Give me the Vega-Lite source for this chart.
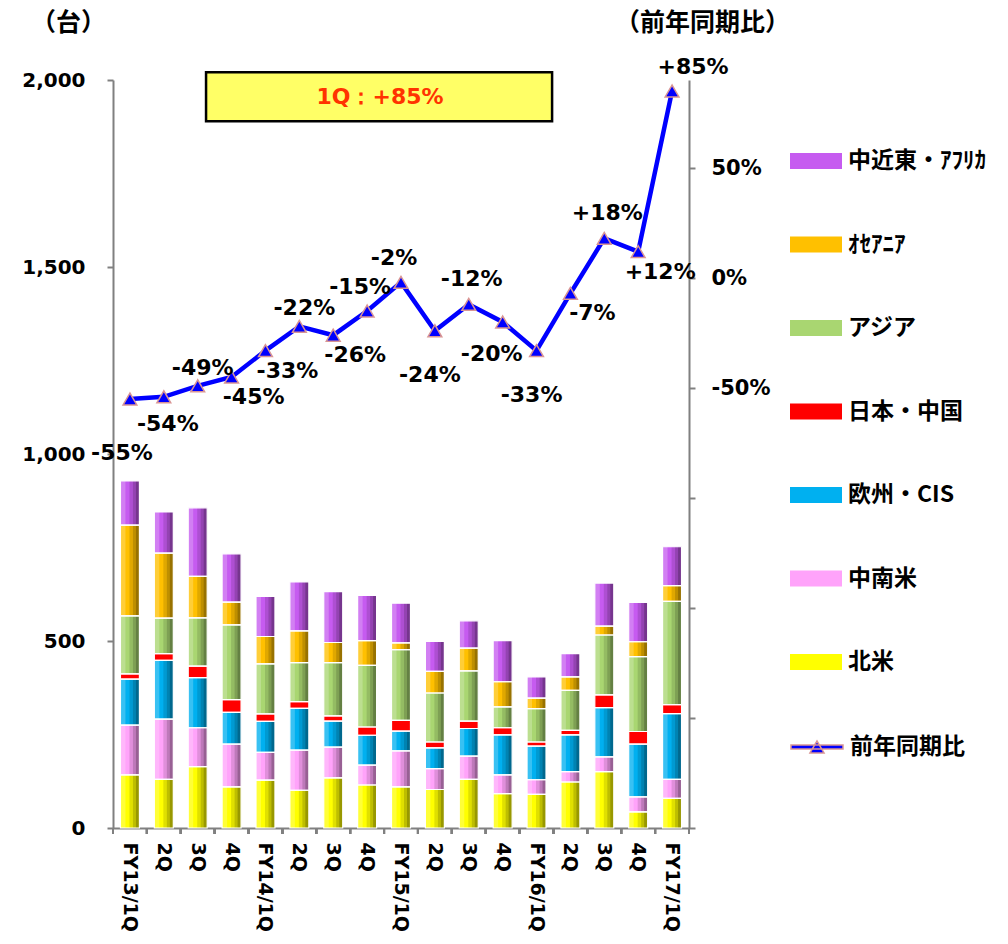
{
  "$schema": "https://vega.github.io/schema/vega-lite/v6.json",
  "width": 576,
  "height": 748,
  "autosize": "none",
  "padding": {"left": 113, "top": 80, "right": 319, "bottom": 116},
  "background": "white",
  "config": {
    "view": {"stroke": null},
    "axis": {
      "grid": false,
      "domainColor": "#808080",
      "domainWidth": 2,
      "tickColor": "#808080",
      "tickWidth": 2,
      "tickSize": 6,
      "labelFont": "DejaVu Sans",
      "labelFontWeight": "bold",
      "labelColor": "#000000"
    }
  },
  "data": {"values": [
      {"q":"FY13/1Q","r":"北米","o":1,"v":142},{"q":"FY13/1Q","r":"中南米","o":2,"v":133},{"q":"FY13/1Q","r":"欧州・CIS","o":3,"v":123},{"q":"FY13/1Q","r":"日本・中国","o":4,"v":14},{"q":"FY13/1Q","r":"アジア","o":5,"v":155},{"q":"FY13/1Q","r":"ｵｾｱﾆｱ","o":6,"v":243},{"q":"FY13/1Q","r":"中近東・ｱﾌﾘｶ","o":7,"v":118},
      {"q":"FY13/2Q","r":"北米","o":1,"v":130},{"q":"FY13/2Q","r":"中南米","o":2,"v":161},{"q":"FY13/2Q","r":"欧州・CIS","o":3,"v":157},{"q":"FY13/2Q","r":"日本・中国","o":4,"v":18},{"q":"FY13/2Q","r":"アジア","o":5,"v":95},{"q":"FY13/2Q","r":"ｵｾｱﾆｱ","o":6,"v":174},{"q":"FY13/2Q","r":"中近東・ｱﾌﾘｶ","o":7,"v":110},
      {"q":"FY13/3Q","r":"北米","o":1,"v":164},{"q":"FY13/3Q","r":"中南米","o":2,"v":104},{"q":"FY13/3Q","r":"欧州・CIS","o":3,"v":134},{"q":"FY13/3Q","r":"日本・中国","o":4,"v":31},{"q":"FY13/3Q","r":"アジア","o":5,"v":129},{"q":"FY13/3Q","r":"ｵｾｱﾆｱ","o":6,"v":111},{"q":"FY13/3Q","r":"中近東・ｱﾌﾘｶ","o":7,"v":183},
      {"q":"FY13/4Q","r":"北米","o":1,"v":110},{"q":"FY13/4Q","r":"中南米","o":2,"v":114},{"q":"FY13/4Q","r":"欧州・CIS","o":3,"v":85},{"q":"FY13/4Q","r":"日本・中国","o":4,"v":34},{"q":"FY13/4Q","r":"アジア","o":5,"v":200},{"q":"FY13/4Q","r":"ｵｾｱﾆｱ","o":6,"v":61},{"q":"FY13/4Q","r":"中近東・ｱﾌﾘｶ","o":7,"v":129},
      {"q":"FY14/1Q","r":"北米","o":1,"v":128},{"q":"FY14/1Q","r":"中南米","o":2,"v":74},{"q":"FY14/1Q","r":"欧州・CIS","o":3,"v":83},{"q":"FY14/1Q","r":"日本・中国","o":4,"v":20},{"q":"FY14/1Q","r":"アジア","o":5,"v":134},{"q":"FY14/1Q","r":"ｵｾｱﾆｱ","o":6,"v":73},{"q":"FY14/1Q","r":"中近東・ｱﾌﾘｶ","o":7,"v":107},
      {"q":"FY14/2Q","r":"北米","o":1,"v":101},{"q":"FY14/2Q","r":"中南米","o":2,"v":107},{"q":"FY14/2Q","r":"欧州・CIS","o":3,"v":112},{"q":"FY14/2Q","r":"日本・中国","o":4,"v":18},{"q":"FY14/2Q","r":"アジア","o":5,"v":104},{"q":"FY14/2Q","r":"ｵｾｱﾆｱ","o":6,"v":85},{"q":"FY14/2Q","r":"中近東・ｱﾌﾘｶ","o":7,"v":131},
      {"q":"FY14/3Q","r":"北米","o":1,"v":134},{"q":"FY14/3Q","r":"中南米","o":2,"v":82},{"q":"FY14/3Q","r":"欧州・CIS","o":3,"v":70},{"q":"FY14/3Q","r":"日本・中国","o":4,"v":14},{"q":"FY14/3Q","r":"アジア","o":5,"v":142},{"q":"FY14/3Q","r":"ｵｾｱﾆｱ","o":6,"v":54},{"q":"FY14/3Q","r":"中近東・ｱﾌﾘｶ","o":7,"v":136},
      {"q":"FY14/4Q","r":"北米","o":1,"v":115},{"q":"FY14/4Q","r":"中南米","o":2,"v":53},{"q":"FY14/4Q","r":"欧州・CIS","o":3,"v":80},{"q":"FY14/4Q","r":"日本・中国","o":4,"v":22},{"q":"FY14/4Q","r":"アジア","o":5,"v":165},{"q":"FY14/4Q","r":"ｵｾｱﾆｱ","o":6,"v":66},{"q":"FY14/4Q","r":"中近東・ｱﾌﾘｶ","o":7,"v":121},
      {"q":"FY15/1Q","r":"北米","o":1,"v":110},{"q":"FY15/1Q","r":"中南米","o":2,"v":96},{"q":"FY15/1Q","r":"欧州・CIS","o":3,"v":53},{"q":"FY15/1Q","r":"日本・中国","o":4,"v":29},{"q":"FY15/1Q","r":"アジア","o":5,"v":189},{"q":"FY15/1Q","r":"ｵｾｱﾆｱ","o":6,"v":18},{"q":"FY15/1Q","r":"中近東・ｱﾌﾘｶ","o":7,"v":106},
      {"q":"FY15/2Q","r":"北米","o":1,"v":103},{"q":"FY15/2Q","r":"中南米","o":2,"v":56},{"q":"FY15/2Q","r":"欧州・CIS","o":3,"v":55},{"q":"FY15/2Q","r":"日本・中国","o":4,"v":16},{"q":"FY15/2Q","r":"アジア","o":5,"v":131},{"q":"FY15/2Q","r":"ｵｾｱﾆｱ","o":6,"v":58},{"q":"FY15/2Q","r":"中近東・ｱﾌﾘｶ","o":7,"v":80},
      {"q":"FY15/3Q","r":"北米","o":1,"v":130},{"q":"FY15/3Q","r":"中南米","o":2,"v":62},{"q":"FY15/3Q","r":"欧州・CIS","o":3,"v":74},{"q":"FY15/3Q","r":"日本・中国","o":4,"v":20},{"q":"FY15/3Q","r":"アジア","o":5,"v":134},{"q":"FY15/3Q","r":"ｵｾｱﾆｱ","o":6,"v":61},{"q":"FY15/3Q","r":"中近東・ｱﾌﾘｶ","o":7,"v":73},
      {"q":"FY15/4Q","r":"北米","o":1,"v":92},{"q":"FY15/4Q","r":"中南米","o":2,"v":50},{"q":"FY15/4Q","r":"欧州・CIS","o":3,"v":107},{"q":"FY15/4Q","r":"日本・中国","o":4,"v":19},{"q":"FY15/4Q","r":"アジア","o":5,"v":56},{"q":"FY15/4Q","r":"ｵｾｱﾆｱ","o":6,"v":67},{"q":"FY15/4Q","r":"中近東・ｱﾌﾘｶ","o":7,"v":110},
      {"q":"FY16/1Q","r":"北米","o":1,"v":90},{"q":"FY16/1Q","r":"中南米","o":2,"v":39},{"q":"FY16/1Q","r":"欧州・CIS","o":3,"v":90},{"q":"FY16/1Q","r":"日本・中国","o":4,"v":11},{"q":"FY16/1Q","r":"アジア","o":5,"v":89},{"q":"FY16/1Q","r":"ｵｾｱﾆｱ","o":6,"v":28},{"q":"FY16/1Q","r":"中近東・ｱﾌﾘｶ","o":7,"v":57},
      {"q":"FY16/2Q","r":"北米","o":1,"v":123},{"q":"FY16/2Q","r":"中南米","o":2,"v":28},{"q":"FY16/2Q","r":"欧州・CIS","o":3,"v":98},{"q":"FY16/2Q","r":"日本・中国","o":4,"v":12},{"q":"FY16/2Q","r":"アジア","o":5,"v":107},{"q":"FY16/2Q","r":"ｵｾｱﾆｱ","o":6,"v":36},{"q":"FY16/2Q","r":"中近東・ｱﾌﾘｶ","o":7,"v":62},
      {"q":"FY16/3Q","r":"北米","o":1,"v":151},{"q":"FY16/3Q","r":"中南米","o":2,"v":39},{"q":"FY16/3Q","r":"欧州・CIS","o":3,"v":132},{"q":"FY16/3Q","r":"日本・中国","o":4,"v":34},{"q":"FY16/3Q","r":"アジア","o":5,"v":160},{"q":"FY16/3Q","r":"ｵｾｱﾆｱ","o":6,"v":24},{"q":"FY16/3Q","r":"中近東・ｱﾌﾘｶ","o":7,"v":115},
      {"q":"FY16/4Q","r":"北米","o":1,"v":43},{"q":"FY16/4Q","r":"中南米","o":2,"v":40},{"q":"FY16/4Q","r":"欧州・CIS","o":3,"v":141},{"q":"FY16/4Q","r":"日本・中国","o":4,"v":34},{"q":"FY16/4Q","r":"アジア","o":5,"v":200},{"q":"FY16/4Q","r":"ｵｾｱﾆｱ","o":6,"v":40},{"q":"FY16/4Q","r":"中近東・ｱﾌﾘｶ","o":7,"v":105},
      {"q":"FY17/1Q","r":"北米","o":1,"v":79},{"q":"FY17/1Q","r":"中南米","o":2,"v":51},{"q":"FY17/1Q","r":"欧州・CIS","o":3,"v":176},{"q":"FY17/1Q","r":"日本・中国","o":4,"v":24},{"q":"FY17/1Q","r":"アジア","o":5,"v":276},{"q":"FY17/1Q","r":"ｵｾｱﾆｱ","o":6,"v":42},{"q":"FY17/1Q","r":"中近東・ｱﾌﾘｶ","o":7,"v":104}
  ]},
  "layer": [
    {
      "encoding": {
        "x": {
          "field": "q", "type": "nominal", "sort": null,
          "scale": {"paddingInner": 0.44, "paddingOuter": 0.22},
          "axis": {
            "title": null,
            "ticks": false,
            "labelAngle": 90,
            "labelAlign": "left",
            "labelBaseline": "middle",
            "labelPadding": 14,
            "labelFontSize": 19,
            "labelExpr": "indexof(datum.value, '1Q') >= 0 ? datum.value : slice(datum.value, 5)"
          }
        },
        "y": {
          "field": "v", "type": "quantitative", "aggregate": "sum", "stack": "zero",
          "scale": {"domain": [0, 2000], "nice": false},
          "axis": {
            "orient": "left",
            "values": [0, 500, 1000, 1500, 2000],
            "format": ",d",
            "labelFontSize": 20,
            "labelPadding": 22,
            "title": "（台）",
            "titleAngle": 0,
            "titleX": -45,
            "titleY": -58,
            "titleAlign": "center",
            "titleBaseline": "middle",
            "titleFont": "Noto Sans CJK JP",
            "titleFontSize": 25,
            "titleFontWeight": "bold",
            "titleColor": "#000000"
          }
        },
        "order": {"field": "o", "type": "quantitative"}
      },
      "layer": [
        {
          "mark": {"type": "bar", "strokeWidth": 0},
          "encoding": {
            "color": {
              "field": "r", "type": "nominal",
              "scale": {
                "domain": ["中近東・ｱﾌﾘｶ", "ｵｾｱﾆｱ", "アジア", "日本・中国", "欧州・CIS", "中南米", "北米"],
                "range": ["#C65BF0", "#FFC000", "#A9D671", "#FF0000", "#00B0F0", "#FFA3FA", "#FFFF00"]
              },
              "legend": {
                "orient": "none",
                "legendX": 677,
                "legendY": 55,
                "title": null,
                "symbolType": "M-1,-0.31H1V0.31H-1Z",
                "symbolSize": 2704,
                "symbolStrokeWidth": 0,
                "labelFont": "Noto Sans CJK JP",
                "labelFontSize": 23,
                "labelFontWeight": "bold",
                "labelColor": "#000000",
                "labelOffset": 6,
                "rowPadding": 45.5
              }
            }
          }
        },
        {
          "mark": {"type": "bar", "width": 5, "xOffset": -7, "fill": "white", "strokeWidth": 0},
          "encoding": {
            "detail": {"field": "r", "type": "nominal"},
            "fillOpacity": {"condition": {"test": "datum.r == '日本・中国'", "value": 0}, "value": 0.22}
          }
        },
        {
          "mark": {"type": "bar", "width": 10, "xOffset": 4.5, "fill": "black", "strokeWidth": 0},
          "encoding": {
            "detail": {"field": "r", "type": "nominal"},
            "fillOpacity": {"condition": {"test": "datum.r == '日本・中国'", "value": 0}, "value": 0.12}
          }
        },
        {
          "mark": {"type": "bar", "width": 6.5, "xOffset": 6.25, "fill": "black", "strokeWidth": 0},
          "encoding": {
            "detail": {"field": "r", "type": "nominal"},
            "fillOpacity": {"condition": {"test": "datum.r == '日本・中国'", "value": 0}, "value": 0.15}
          }
        },
        {
          "mark": {"type": "bar", "width": 3.5, "xOffset": 7.75, "fill": "black", "strokeWidth": 0},
          "encoding": {
            "detail": {"field": "r", "type": "nominal"},
            "fillOpacity": {"condition": {"test": "datum.r == '日本・中国'", "value": 0}, "value": 0.2}
          }
        },
        {
          "mark": {"type": "bar", "fill": "transparent", "stroke": "white", "strokeWidth": 1.2},
          "encoding": {
            "detail": {"field": "r", "type": "nominal"}
          }
        }
      ]
    },
    {
      "layer": [
        {
          "mark": {"type": "rule", "color": "#808080", "strokeWidth": 2},
          "encoding": {
            "x": {"field": "q", "type": "nominal", "sort": null, "bandPosition": -0.393},
            "y": {"datum": 0, "type": "quantitative", "scale": {"domain": [0, 2000], "nice": false}, "axis": null},
            "y2": {"datum": -16}
          }
        },
        {
          "mark": {"type": "rule", "color": "#808080", "strokeWidth": 2},
          "encoding": {
            "x": {"datum": "FY17/1Q", "type": "nominal", "bandPosition": 1.393},
            "y": {"datum": 0, "type": "quantitative"},
            "y2": {"datum": -16}
          }
        }
      ]
    },
    {
      "data": {"values": [
        {"q":"FY13/1Q","p":-55},{"q":"FY13/2Q","p":-54},{"q":"FY13/3Q","p":-49},{"q":"FY13/4Q","p":-45},
        {"q":"FY14/1Q","p":-33},{"q":"FY14/2Q","p":-22},{"q":"FY14/3Q","p":-26},{"q":"FY14/4Q","p":-15},
        {"q":"FY15/1Q","p":-2},{"q":"FY15/2Q","p":-24},{"q":"FY15/3Q","p":-12},{"q":"FY15/4Q","p":-20},
        {"q":"FY16/1Q","p":-33},{"q":"FY16/2Q","p":-7},{"q":"FY16/3Q","p":18},{"q":"FY16/4Q","p":12},
        {"q":"FY17/1Q","p":85}
      ]},
      "transform": [
        {"calculate": "(datum.p > 0 ? '+' : '') + datum.p + '%'", "as": "lbl"}
      ],
      "encoding": {
        "x": {"field": "q", "type": "nominal", "sort": null},
        "y": {
          "field": "p", "type": "quantitative",
          "scale": {"domain": [-250, 90], "nice": false, "zero": false},
          "axis": {
            "orient": "right",
            "values": [-250, -200, -150, -100, -50, 0, 50],
            "labelExpr": "datum.value >= -50 ? datum.value + '%' : ''",
            "labelFontSize": 21,
            "labelPadding": 16,
            "title": "（前年同期比）",
            "titleAngle": 0,
            "titleX": 13,
            "titleY": -58,
            "titleAlign": "center",
            "titleBaseline": "middle",
            "titleFont": "Noto Sans CJK JP",
            "titleFontSize": 25,
            "titleFontWeight": "bold",
            "titleColor": "#000000"
          }
        }
      },
      "layer": [
        {"mark": {"type": "line", "color": "#0000FF", "strokeWidth": 4.5}, "encoding": {}},
        {
          "mark": {"type": "point", "shape": "triangle-up", "filled": true, "size": 190, "stroke": "#D99594", "strokeWidth": 1.5, "opacity": 1},
          "encoding": {
            "fill": {
              "datum": "前年同期比",
              "scale": {"range": ["#0000FF"]},
              "legend": {
                "orient": "none",
                "legendX": 677,
                "legendY": 640,
                "title": null,
                "symbolType": "M-1,-0.08H1V0.08H-1Z M-0.27,0.23L0,-0.23L0.27,0.23Z",
                "symbolSize": 2704,
                "labelFont": "Noto Sans CJK JP",
                "labelFontSize": 23,
                "labelFontWeight": "bold",
                "labelColor": "#000000",
                "labelOffset": 6
              }
            }
          }
        },
        {
          "transform": [{"filter": "indexof(['FY13/3Q','FY14/2Q'], datum.q) >= 0"}],
          "mark": {"type": "text", "font": "DejaVu Sans", "fontWeight": "bold", "fontSize": 22, "baseline": "middle", "align": "center", "color": "#000000", "dx": 5, "dy": -18},
          "encoding": {"text": {"field": "lbl"}}
        },
        {
          "transform": [{"filter": "indexof(['FY14/4Q','FY15/1Q'], datum.q) >= 0"}],
          "mark": {"type": "text", "font": "DejaVu Sans", "fontWeight": "bold", "fontSize": 22, "baseline": "middle", "align": "center", "color": "#000000", "dx": -7, "dy": -24},
          "encoding": {"text": {"field": "lbl"}}
        },
        {
          "transform": [{"filter": "indexof(['FY15/3Q','FY16/3Q'], datum.q) >= 0"}],
          "mark": {"type": "text", "font": "DejaVu Sans", "fontWeight": "bold", "fontSize": 22, "baseline": "middle", "align": "center", "color": "#000000", "dx": 3, "dy": -25},
          "encoding": {"text": {"field": "lbl"}}
        },
        {
          "transform": [{"filter": "indexof(['FY17/1Q'], datum.q) >= 0"}],
          "mark": {"type": "text", "font": "DejaVu Sans", "fontWeight": "bold", "fontSize": 22, "baseline": "middle", "align": "center", "color": "#000000", "dx": 21, "dy": -24},
          "encoding": {"text": {"field": "lbl"}}
        },
        {
          "transform": [{"filter": "indexof(['FY13/4Q','FY14/1Q','FY14/3Q','FY16/2Q','FY16/4Q'], datum.q) >= 0"}],
          "mark": {"type": "text", "font": "DejaVu Sans", "fontWeight": "bold", "fontSize": 22, "baseline": "middle", "align": "center", "color": "#000000", "dx": 22, "dy": 20},
          "encoding": {"text": {"field": "lbl"}}
        },
        {
          "transform": [{"filter": "indexof(['FY13/2Q'], datum.q) >= 0"}],
          "mark": {"type": "text", "font": "DejaVu Sans", "fontWeight": "bold", "fontSize": 22, "baseline": "middle", "align": "center", "color": "#000000", "dx": 4, "dy": 27},
          "encoding": {"text": {"field": "lbl"}}
        },
        {
          "transform": [{"filter": "indexof(['FY15/2Q','FY16/1Q'], datum.q) >= 0"}],
          "mark": {"type": "text", "font": "DejaVu Sans", "fontWeight": "bold", "fontSize": 22, "baseline": "middle", "align": "center", "color": "#000000", "dx": -5, "dy": 44},
          "encoding": {"text": {"field": "lbl"}}
        },
        {
          "transform": [{"filter": "indexof(['FY15/4Q'], datum.q) >= 0"}],
          "mark": {"type": "text", "font": "DejaVu Sans", "fontWeight": "bold", "fontSize": 22, "baseline": "middle", "align": "center", "color": "#000000", "dx": -11, "dy": 32},
          "encoding": {"text": {"field": "lbl"}}
        },
        {
          "transform": [{"filter": "indexof(['FY13/1Q'], datum.q) >= 0"}],
          "mark": {"type": "text", "font": "DejaVu Sans", "fontWeight": "bold", "fontSize": 22, "baseline": "middle", "align": "center", "color": "#000000", "dx": -8, "dy": 54},
          "encoding": {"text": {"field": "lbl"}}
        }
      ]
    },
    {
      "data": {"values": [{"t": "1Q：+85%"}]},
      "layer": [
        {
          "mark": {"type": "rect", "fill": "#FFFF66", "stroke": "#000000", "strokeWidth": 2.5},
          "encoding": {
            "x": {"datum": "FY13/3Q", "type": "nominal", "bandPosition": 0.94},
            "x2": {"datum": "FY16/1Q", "bandPosition": 1.32},
            "y": {"datum": 2021, "type": "quantitative", "scale": {"domain": [0, 2000], "nice": false, "zero": false}, "axis": null},
            "y2": {"datum": 1890}
          }
        },
        {
          "mark": {"type": "text", "font": "DejaVu Sans", "fontWeight": "bold", "fontSize": 22, "color": "#FF3300", "align": "center", "baseline": "middle"},
          "encoding": {
            "x": {"datum": "FY14/4Q", "type": "nominal", "bandPosition": 1.18},
            "y": {"datum": 1955, "type": "quantitative"},
            "text": {"field": "t"}
          }
        }
      ]
    }
  ],
  "resolve": {"scale": {"y": "independent"}}
}
